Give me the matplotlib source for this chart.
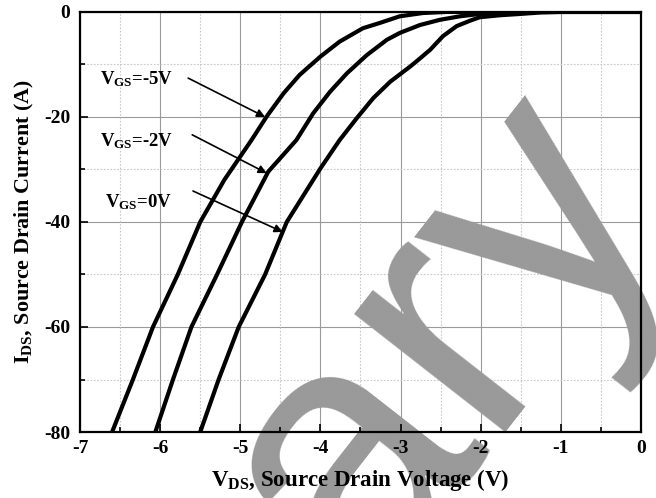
import matplotlib
matplotlib.use("Agg")
import matplotlib.pyplot as plt

plt.rcParams["font.family"] = ["Liberation Serif", "DejaVu Serif"]
plt.rcParams["font.weight"] = "bold"
plt.rcParams["axes.unicode_minus"] = False
plt.rcParams["mathtext.fontset"] = "custom"
plt.rcParams["mathtext.rm"] = "Liberation Serif:bold"
plt.rcParams["mathtext.bf"] = "Liberation Serif:bold"
plt.rcParams["mathtext.it"] = "Liberation Serif:bold"

# Data (V_DS in V, I_DS in A)
vds_5v = [-6.60, -6.34, -6.09, -5.78, -5.50, -5.20, -4.86, -4.67, -4.46, -4.26,
          -4.00, -3.76, -3.47, -3.26, -3.01, -2.72, -2.43, 0.0]
ids_5v = [-80, -70, -60, -50, -40, -32, -24.4, -19.9, -15.5, -12.0,
          -8.5, -5.65, -3.1, -2.1, -0.83, -0.2, 0, 0]

vds_2v = [-6.06, -5.84, -5.61, -5.29, -4.98, -4.65, -4.30, -4.09, -3.88, -3.67,
          -3.42, -3.17, -3.01, -2.76, -2.51, -2.26, -2.01, -1.76, -1.60, 0.0]
ids_2v = [-80, -70, -60, -50, -40, -30.4, -24.4, -19.3, -15.2, -11.7,
          -8.2, -5.3, -4.0, -2.5, -1.5, -0.83, -0.38, -0.1, 0, 0]

vds_0v = [-5.50, -5.27, -5.02, -4.69, -4.42, -4.00, -3.76, -3.55, -3.34, -3.13,
          -2.88, -2.80, -2.63, -2.47, -2.30, -2.13, -2.01, -1.76, -1.51, -1.25,
          -1.00, 0.0]
ids_0v = [-80, -70, -60, -50, -40, -29.8, -24.4, -20.3, -16.4, -13.3,
          -10.4, -9.4, -7.2, -4.6, -2.7, -1.65, -1.0, -0.63, -0.38, -0.1,
          0, 0]

labels = [r"$\mathbf{V_{GS}}$=-5V", r"$\mathbf{V_{GS}}$=-2V", r"$\mathbf{V_{GS}}$=0V"]
label_xy = [(-6.75, -12.8), (-6.75, -24.6), (-6.69, -36.2)]
arrow_start = [(-5.65, -12.6), (-5.60, -23.4), (-5.59, -34.1)]
arrow_end = [(-4.69, -20.0), (-4.67, -30.7), (-4.47, -41.9)]

x_major = [-7, -6, -5, -4, -3, -2, -1, 0]
x_minor = [-6.5, -5.5, -4.5, -3.5, -2.5, -1.5, -0.5]
y_major = [-80, -60, -40, -20, 0]
y_minor = [-70, -50, -30, -10]

fig = plt.figure(figsize=(6.56, 4.98), dpi=100)
ax = fig.add_axes([0.122, 0.1325, 0.855, 0.8435])

# grid drawn by hand so the watermark can sit between grid and tick labels
for v in x_major:
    ax.axvline(v, color="#9a9a9a", lw=0.8, zorder=1)
for v in y_major:
    ax.axhline(v, color="#9a9a9a", lw=0.8, zorder=1)
for v in x_minor:
    ax.axvline(v, color="#c8c8c8", lw=0.8, ls=(0, (1.5, 1.5)), zorder=1)
for v in y_minor:
    ax.axhline(v, color="#c8c8c8", lw=0.8, ls=(0, (1.5, 1.5)), zorder=1)

for vds, ids in [(vds_5v, ids_5v), (vds_2v, ids_2v), (vds_0v, ids_0v)]:
    ax.plot(vds, ids, color="black", lw=3, zorder=3,
            solid_joinstyle="round", solid_capstyle="butt")

for txt, xy, s, e in zip(labels, label_xy, arrow_start, arrow_end):
    ax.text(xy[0], xy[1], txt, fontsize=13.5, fontweight="bold",
            ha="left", va="center", zorder=4)
    ax.annotate("", xy=e, xytext=s,
                arrowprops=dict(arrowstyle="-|>", color="black", lw=1.2,
                                mutation_scale=12, shrinkA=0, shrinkB=0),
                zorder=4)

ax.set_xlim(-7, 0)
ax.set_ylim(-80, 0)
ax.set_xticks(x_major)
ax.set_xticks(x_minor, minor=True)
ax.set_yticks(y_major)
ax.set_yticks(y_minor, minor=True)
ax.tick_params(which="both", direction="in", width=1.2, labelsize=14)
ax.tick_params(which="major", length=6)
ax.tick_params(which="minor", length=3.5)
ax.tick_params(axis="y", pad=7)
ax.tick_params(axis="x", pad=6)
for lab in ax.get_xticklabels() + ax.get_yticklabels():
    lab.set_fontweight("bold")
for sp in ax.spines.values():
    sp.set_linewidth(1.6)

ax.set_xlabel(r"$\mathbf{V_{DS}}$, Source Drain Voltage (V)", fontsize=16.5,
              fontweight="bold", labelpad=7)
ax.set_ylabel(r"$\mathbf{I_{DS}}$, Source Drain Current (A)", fontsize=15.8,
              fontweight="bold", labelpad=6)

# watermark
ax.text(0.549, -0.201, "ary", transform=fig.transFigure, fontsize=262,
        family="Liberation Sans", fontweight="normal", color="#999999",
        rotation=52, rotation_mode="anchor", ha="left", va="baseline",
        clip_on=False, zorder=1.2)

fig.savefig("out.png", dpi=100)
